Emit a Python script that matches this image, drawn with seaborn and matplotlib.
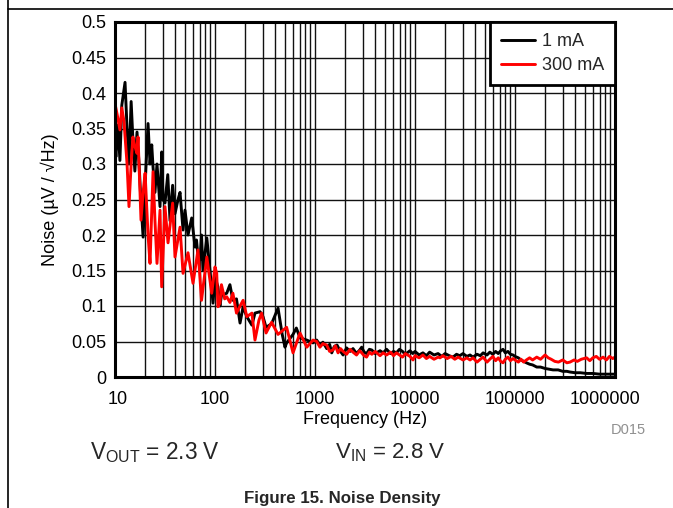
import matplotlib
matplotlib.use("Agg")
import matplotlib.pyplot as plt
import seaborn as sns
import pandas as pd
from matplotlib.lines import Line2D
from matplotlib.transforms import ScaledTranslation
from matplotlib.ticker import FixedLocator, FixedFormatter, LogLocator, NullFormatter

series_names = ["1 mA", "300 mA"]
series_colors = ["#000000", "#ff0000"]

freq_1ma = [10, 10.2, 10.7, 11.2, 11.7, 12.6, 13.2, 13.8, 14.5, 15.1, 15.8, 16.6, 17.4, 18.2, 19.1,
            20.0, 21.4, 22.4, 23.3, 24.0, 25.1, 26.3, 28.2, 29.3, 30.2, 31.6, 33.7, 35.5, 37.7, 39.8,
            42.7, 44.7, 47.9, 50.1, 53.7, 58.5, 63.1, 65.3, 67.6, 70.8, 73.3, 75.9, 82.8, 89.1, 95.5,
            100, 107, 112, 116, 131, 141, 151, 164, 178, 191, 208, 234, 251, 282, 302, 324, 368, 427,
            470, 501, 520, 603, 651, 708, 828, 955,
            1040, 1120, 1200, 1310, 1400, 1470, 1560, 1660, 1780, 1910, 2070, 2240, 2400, 2600, 2800,
            2930, 3100, 3280, 3500, 3700, 4000, 4470, 4800, 5200, 5700, 6100, 6520, 7000, 7500, 8000,
            8910, 9500, 10000, 11000, 12000, 13000, 14000, 15500, 17000, 18500, 20000, 22000, 24000,
            26000, 28000, 30200, 33000, 35500, 38000, 41700, 45000, 48000, 52500, 56000, 60000, 64000,
            68000, 72000, 75900, 80000, 85000, 90000, 95500, 100000, 108000, 115000, 122000, 130000,
            140000, 150000, 165000, 180000, 200000, 220000, 240000, 270000, 300000, 330000, 355000,
            400000, 450000, 520000, 600000, 700000, 800000, 900000, 1000000]
noise_1ma = [0.33, 0.31, 0.355, 0.305, 0.383, 0.415, 0.35, 0.30, 0.388, 0.335, 0.29, 0.345, 0.30, 0.245, 0.197,
             0.27, 0.357, 0.30, 0.327, 0.296, 0.26, 0.30, 0.24, 0.317, 0.25, 0.245, 0.285, 0.22, 0.27, 0.23,
             0.25, 0.26, 0.207, 0.235, 0.20, 0.224, 0.183, 0.193, 0.17, 0.165, 0.20, 0.15, 0.196, 0.15, 0.104,
             0.141, 0.127, 0.10, 0.115, 0.118, 0.13, 0.108, 0.11, 0.076, 0.099, 0.085, 0.073, 0.09, 0.092, 0.085, 0.07, 0.075, 0.097,
             0.06, 0.042, 0.048, 0.06, 0.069, 0.055, 0.052, 0.048,
             0.052, 0.045, 0.049, 0.040, 0.046, 0.034, 0.043, 0.045, 0.037, 0.031, 0.041, 0.036, 0.040, 0.033, 0.038,
             0.042, 0.035, 0.033, 0.039, 0.038, 0.033, 0.037, 0.034, 0.039, 0.033, 0.036, 0.034, 0.039, 0.036, 0.032,
             0.037, 0.033, 0.036, 0.031, 0.034, 0.030, 0.035, 0.031, 0.033, 0.029, 0.033, 0.030, 0.028,
             0.032, 0.030, 0.033, 0.029, 0.031, 0.028, 0.032, 0.030, 0.034, 0.031, 0.035, 0.032, 0.036,
             0.033, 0.037, 0.039, 0.034, 0.036, 0.032, 0.031, 0.029, 0.027, 0.024, 0.022, 0.020,
             0.018, 0.017, 0.014, 0.014, 0.012, 0.011, 0.010, 0.010, 0.008, 0.008, 0.007,
             0.006, 0.006, 0.005, 0.005, 0.004, 0.004, 0.004, 0.004]

freq_300ma = [10, 10.5, 11.2, 11.7, 12.3, 13.2, 13.8, 14.5, 15.1, 15.8, 16.6, 17.0, 18.2, 19.1, 20.0,
              21.4, 22.4, 24.0, 25.1, 26.3, 28.2, 29.3, 31.6, 33.9, 37.7, 39.8, 44.7, 47.9, 53.7, 60.3,
              67.6, 73.3, 82.8, 92.7, 100, 104, 107, 112, 116, 125, 131, 141, 151, 164, 178, 191, 208,
              234, 251, 275, 292, 324, 368, 427, 520, 603, 708, 828, 955,
              1040, 1120, 1200, 1310, 1400, 1510, 1600, 1700, 1800, 1910, 2070, 2240, 2400, 2600, 2800,
              2930, 3100, 3280, 3500, 3700, 4000, 4470, 4800, 5200, 5700, 6100, 6520, 7000, 7500, 8000,
              8910, 9550, 10000, 11000, 12000, 13000, 14000, 15500, 17000, 17800, 19000, 21000, 23000,
              25000, 27000, 30200, 33000, 35500, 38000, 41700, 45000, 48000, 52500, 56000, 60000, 64000,
              68000, 72000, 75900, 80000, 85000, 90000, 95500, 100000, 108000, 115000, 122000, 130000,
              140000, 150000, 165000, 180000, 200000, 215000, 230000, 250000, 272000, 300000, 330000,
              355000, 390000, 420000, 460000, 520000, 560000, 600000, 650000, 700000, 760000, 820000,
              880000, 950000, 1000000]
noise_300ma = [0.385, 0.37, 0.348, 0.379, 0.36, 0.30, 0.24, 0.30, 0.338, 0.325, 0.315, 0.338, 0.221, 0.26, 0.287,
               0.20, 0.16, 0.289, 0.22, 0.16, 0.235, 0.127, 0.24, 0.189, 0.245, 0.169, 0.211, 0.146, 0.175, 0.132,
               0.179, 0.108, 0.169, 0.118, 0.155, 0.146, 0.099, 0.104, 0.13, 0.11, 0.113, 0.105, 0.118, 0.09, 0.10, 0.108, 0.085,
               0.09, 0.052, 0.08, 0.09, 0.062, 0.077, 0.06, 0.07, 0.034, 0.062, 0.042, 0.052,
               0.050, 0.042, 0.047, 0.045, 0.036, 0.038, 0.044, 0.034, 0.040, 0.036, 0.032, 0.039, 0.035, 0.031, 0.037,
               0.034, 0.030, 0.028, 0.035, 0.032, 0.036, 0.030, 0.034, 0.031, 0.035, 0.030, 0.034, 0.031, 0.028, 0.033,
               0.029, 0.024, 0.030, 0.027, 0.031, 0.026, 0.029, 0.025, 0.028, 0.027, 0.030, 0.026, 0.029,
               0.025, 0.028, 0.024, 0.027, 0.024, 0.027, 0.021, 0.025, 0.028, 0.021, 0.025, 0.029, 0.023,
               0.027, 0.022, 0.020, 0.025, 0.028, 0.023, 0.026, 0.024, 0.021, 0.025, 0.021, 0.024,
               0.027, 0.024, 0.028, 0.025, 0.031, 0.027, 0.025, 0.022, 0.021, 0.024, 0.020,
               0.021, 0.024, 0.022, 0.025, 0.027, 0.023, 0.027, 0.029, 0.025, 0.028, 0.024,
               0.029, 0.026, 0.028]

x_ticks = [10, 100, 1000, 10000, 100000, 1000000]
x_tick_labels = ["10", "100", "1000", "10000", "100000", "1000000"]
y_ticks = [0, 0.05, 0.1, 0.15, 0.2, 0.25, 0.3, 0.35, 0.4, 0.45, 0.5]
y_tick_labels = ["0", "0.05", "0.1", "0.15", "0.2", "0.25", "0.3", "0.35", "0.4", "0.45", "0.5"]

df = pd.concat([
    pd.DataFrame({"freq": freq_1ma, "noise": noise_1ma, "series": series_names[0]}),
    pd.DataFrame({"freq": freq_300ma, "noise": noise_300ma, "series": series_names[1]}),
], ignore_index=True)

sns.set_theme(style="white")
plt.rcParams["font.family"] = ["Liberation Sans", "DejaVu Sans"]

FS = 13

fig = plt.figure(figsize=(6.73, 5.08), dpi=100)
ax = fig.add_axes([115 / 673, 1 - 377 / 508, 500 / 673, 355 / 508])

sns.lineplot(data=df, x="freq", y="noise", hue="series", hue_order=series_names,
             palette=dict(zip(series_names, series_colors)), estimator=None, sort=False,
             linewidth=2.1, ax=ax)

ax.set_xscale("log")
ax.set_xlim(10, 1e6)
ax.set_ylim(0, 0.5)
ax.xaxis.set_major_locator(FixedLocator(x_ticks))
ax.xaxis.set_major_formatter(FixedFormatter(x_tick_labels))
ax.xaxis.set_minor_locator(LogLocator(base=10, subs=range(2, 10)))
ax.xaxis.set_minor_formatter(NullFormatter())
ax.yaxis.set_major_locator(FixedLocator(y_ticks))
ax.yaxis.set_major_formatter(FixedFormatter(y_tick_labels))

ax.grid(True, which="major", color="#111111", linewidth=1.0)
ax.grid(True, which="minor", axis="x", color="#111111", linewidth=1.0)
ax.set_axisbelow(True)
ax.tick_params(axis="both", which="both", length=0, labelsize=FS, colors="black")
ax.tick_params(axis="x", pad=10)
ax.tick_params(axis="y", pad=6)
for sp in ax.spines.values():
    sp.set_visible(True)
    sp.set_color("black")
    sp.set_linewidth(2.2)

# nudge end labels like the reference
xlabels = ax.get_xticklabels()
xlabels[0].set_transform(xlabels[0].get_transform() + ScaledTranslation(3 / 100, 0, fig.dpi_scale_trans))
xlabels[-1].set_transform(xlabels[-1].get_transform() + ScaledTranslation(-10 / 100, 0, fig.dpi_scale_trans))

ax.set_xlabel("Frequency (Hz)", fontsize=FS, color="black", labelpad=2)
ax.set_ylabel("Noise (\u00b5V / \u221aHz)", fontsize=FS, color="black", labelpad=9)

leg = ax.legend(loc="upper right", bbox_to_anchor=(1.0, 1.0), borderaxespad=0.0,
                fancybox=False, framealpha=1, edgecolor="black", fontsize=FS,
                handlelength=1.85, handletextpad=0.4, borderpad=0.6, labelspacing=0.4, title=None)
leg.get_frame().set_linewidth(2.0)
for h in leg.legend_handles:
    h.set_linewidth(2.1)

fig.text(628 / 673, 1 - 430 / 508, "D015", fontsize=10.5, color="#909090", ha="center", va="center")
fig.text(90 / 673, 1 - 453 / 508, r"V$_{\mathregular{OUT}}$ = 2.3 V", fontsize=16.3, ha="left", va="center")
fig.text(335 / 673, 1 - 453 / 508, r"V$_{\mathregular{IN}}$ = 2.8 V", fontsize=16, ha="left", va="center")
fig.text(342 / 673, 1 - 499 / 508, "Figure 15. Noise Density", fontsize=12.2, fontweight="bold",
         ha="center", va="center")

fig.add_artist(Line2D([7.5 / 673, 7.5 / 673], [0, 1], transform=fig.transFigure, color="black", linewidth=1.2))
fig.add_artist(Line2D([7.5 / 673, 1], [1 - 9 / 508, 1 - 9 / 508], transform=fig.transFigure,
                      color="black", linewidth=1.2))

fig.savefig("out.png", dpi=100)
